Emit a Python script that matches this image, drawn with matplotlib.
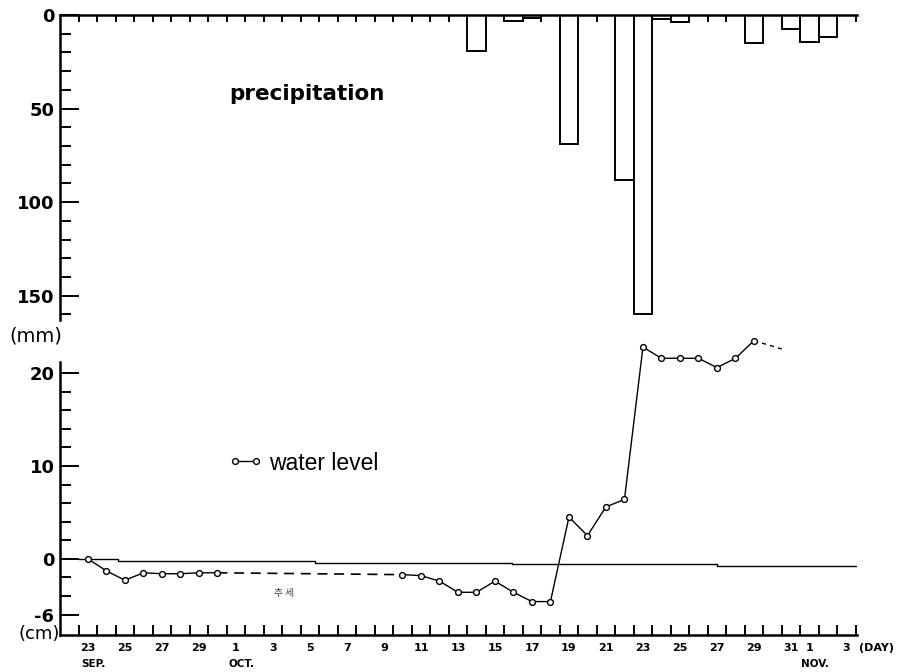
import matplotlib
matplotlib.use("Agg")
import matplotlib.pyplot as plt

# days counted from 23 Sep (day 0); 8 = 1 Oct, 39 = 1 Nov
day_ticks = [0, 2, 4, 6, 8, 10, 12, 14, 16, 18, 20, 22, 24, 26, 28, 30, 32, 34, 36, 38, 39, 41]
day_labels = ["23", "25", "27", "29", "1", "3", "5", "7", "9", "11", "13", "15",
              "17", "19", "21", "23", "25", "27", "29", "31", "1", "3"]
months = ["SEP.", "OCT.", "NOV."]
month_days = [0, 8, 39]

# daily precipitation (mm)
precip_day = [21, 23, 24, 26, 29, 30, 31, 32, 36, 38, 39, 40]
precip_mm = [19, 3, 1.5, 69, 88, 160, 2, 3.5, 15, 7.5, 14.5, 11.5]

# water level (cm): 23-30 Sep, then 10-29 Oct
wl_day = [0, 1, 2, 3, 4, 5, 6, 7,
          17, 18, 19, 20, 21, 22, 23, 24, 25, 26, 27, 28, 29, 30, 31, 32, 33, 34, 35, 36]
wl_cm = [0.0, -1.3, -2.3, -1.5, -1.6, -1.6, -1.5, -1.5,
         -1.7, -1.8, -2.4, -3.6, -3.6, -2.4, -3.6, -4.6, -4.6, 4.5, 2.5, 5.6, 6.4,
         22.8, 21.6, 21.6, 21.6, 20.6, 21.6, 23.5]
tail_day = [36, 37.5]
tail_cm = [23.5, 22.6]

# reference level line (cm)
ref_day = [-0.5, 1.6, 1.6, 12.3, 12.3, 22.9, 22.9, 34.0, 34.0, 41.5]
ref_cm = [0, 0, -0.2, -0.2, -0.4, -0.4, -0.5, -0.5, -0.8, -0.8]

W, H = 901, 672
XL, XR = 60, 857
fig = plt.figure(figsize=(W / 100, H / 100), dpi=100)
xlim = (-1.51, 41.57)
half_days = [d + 0.5 for d in range(-1, 42)]
bold = dict(family="DejaVu Sans", weight="bold")

# ---- precipitation panel ----
ax1 = fig.add_axes([XL / W, 1 - 320 / H, (XR - XL) / W, 305 / H])
ax1.bar(precip_day, precip_mm, width=1.0, fill=False, edgecolor="black", linewidth=1.4)
ax1.set_xlim(*xlim)
ax1.set_ylim(163, 0)
for s in ["bottom", "right"]:
    ax1.spines[s].set_visible(False)
for s in ["top", "left"]:
    ax1.spines[s].set_linewidth(1.8)
ax1.xaxis.tick_top()
ax1.set_xticks(half_days)
ax1.tick_params(axis="x", direction="in", length=5, width=1.4, labeltop=False)
ax1.set_yticks([0, 50, 100, 150])
ax1.set_yticklabels(["0", "50", "100", "150"], **bold, fontsize=13)
ax1.set_yticks([10, 20, 30, 40, 60, 70, 80, 90, 110, 120, 130, 140, 160], minor=True)
ax1.tick_params(axis="y", which="major", direction="in", length=14, width=1.4, pad=4)
ax1.tick_params(axis="y", which="minor", direction="in", length=8, width=1.4)
ax1.text(0.212, 0.72, "precipitation", transform=ax1.transAxes, fontsize=15.5,
         **bold, ha="left", va="baseline")

# ---- water level panel ----
ax2 = fig.add_axes([XL / W, 1 - 635 / H, (XR - XL) / W, 273 / H])
ax2.plot(ref_day, ref_cm, color="black", linewidth=1.0)
ax2.plot(wl_day[7:9], wl_cm[7:9], color="black", linewidth=1.2, linestyle=(0, (6, 4)))
ax2.plot(tail_day, tail_cm, color="black", linewidth=1.0, linestyle=(0, (3, 3)),
         clip_on=False)
mk = dict(color="black", linewidth=1.0, marker="o", markersize=4.2,
          markerfacecolor="white", markeredgewidth=1.0, clip_on=False)
wl_line, = ax2.plot(wl_day[:8], wl_cm[:8], **mk)
ax2.plot(wl_day[8:], wl_cm[8:], **mk)
ax2.set_xlim(*xlim)
ax2.set_ylim(-8.2, 21.2)
for s in ["top", "right"]:
    ax2.spines[s].set_visible(False)
for s in ["bottom", "left"]:
    ax2.spines[s].set_linewidth(1.8)

ax2.set_xticks(day_ticks)
ax2.set_xticklabels(day_labels, **bold, fontsize=8)
ax2.set_xticks(half_days, minor=True)
ax2.tick_params(axis="x", which="major", length=0, pad=6)
ax2.tick_params(axis="x", which="minor", direction="in", length=7, width=1.4)
ax2.set_yticks([-6, 0, 10, 20])
ax2.set_yticklabels(["-6", "0", "10", "20"], **bold, fontsize=13)
ax2.set_yticks([-4, -2, 2, 4, 6, 8, 12, 14, 16, 18], minor=True)
ax2.tick_params(axis="y", which="major", direction="in", length=14, width=1.4, pad=4)
ax2.tick_params(axis="y", which="minor", direction="in", length=8, width=1.4)

xtr = ax2.get_xaxis_transform()
for m, d in zip(months, month_days):
    ax2.text(d + 0.3, -0.108, m, transform=xtr, ha="center", va="center",
             **bold, fontsize=7.5)
ax2.text(41.7, -0.048, "(DAY)", transform=xtr, ha="left", va="center", **bold, fontsize=8)

ax2.text(10.6, -3.7, "추 세", fontsize=7, color="#444444",
         family=["Noto Sans CJK KR", "DejaVu Sans"], ha="center", va="center")

ax2.legend(handles=[wl_line], labels=["water level"], loc="center left",
           bbox_to_anchor=(0.211, 0.63), frameon=False, numpoints=2,
           handlelength=1.5, handletextpad=0.3, borderpad=0, borderaxespad=0,
           prop=dict(family="Liberation Sans", size=16.5))

fig.text(62 / W, 1 - 336 / H, "(mm)", ha="right", va="center",
         family="DejaVu Sans", fontsize=14)
fig.text(60 / W, 1 - 634 / H, "(cm)", ha="right", va="center",
         family="DejaVu Sans", fontsize=13)

fig.savefig("out.png", dpi=100)
